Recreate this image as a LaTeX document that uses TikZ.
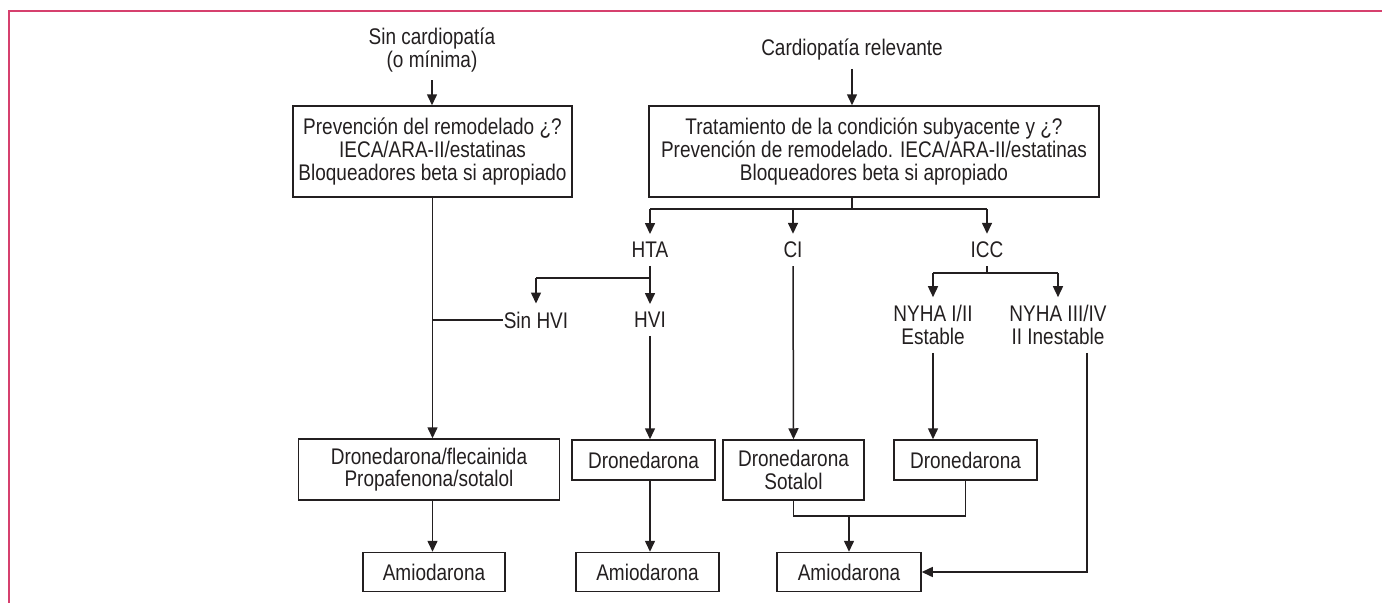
\documentclass[tikz,border=0pt]{standalone}
\usepackage{fontspec}
\setmainfont[FakeStretch=0.84]{Liberation Sans}
\usetikzlibrary{arrows.meta}
\definecolor{marco}{RGB}{214,64,110}
\definecolor{tinta}{RGB}{35,31,32}

\begin{document}
\begin{tikzpicture}[
            x=1pt, y=-1pt,
            caja/.style={
                rectangle,
                draw=tinta,
                line width=1.5pt,
                inner sep=0pt,
                align=center,
                text=tinta,
                font=\fontsize{22.6}{22.6}\selectfont
            },
            rotulo/.style={
                inner sep=8pt,
                align=center,
                text=tinta,
                font=\fontsize{22.6}{22.6}\selectfont
            },
            ln/.style={draw=tinta, line width=1.5pt},
            fl/.style={ln, -{Triangle[length=11pt,width=10pt]}}
        ]
        \useasboundingbox (0,0) rectangle (1382,603);

        % frame
        \draw[marco, line width=2pt] (1382,11) -- (9,11) -- (9,603);

        % nodes
        \node[rotulo] (sincard) at (432,50) {Sin cardiopatía\\(o mínima)};
        \node[rotulo] (cardio) at (852,50) {Cardiopatía relevante};
        \node[caja, minimum width=279pt, minimum height=91pt] (prev) at (432.5,151.5)
            {Prevención del remodelado ¿?\\IECA/ARA-II/estatinas\\Bloqueadores beta si apropiado};
        \node[caja, minimum width=450pt, minimum height=91pt] (trat) at (874,151.5)
            {Tratamiento de la condición subyacente y ¿?\\Prevención de remodelado. IECA/ARA-II/estatinas\\Bloqueadores beta si apropiado};
        \node[rotulo] (hta) at (650,250) {HTA};
        \node[rotulo] (ci) at (793,250) {CI};
        \node[rotulo] (icc) at (987,250) {ICC};
        \node[rotulo] (sinhvi) at (536,320) {Sin HVI};
        \node[rotulo] (hvi) at (650,320) {HVI};
        \node[rotulo] (nyhaa) at (933,325) {NYHA I/II\\Estable};
        \node[rotulo] (nyhab) at (1058,325) {NYHA III/IV\\II Inestable};
        \node[caja, minimum width=261pt, minimum height=61pt] (df) at (429,469.5)
            {Dronedarona/flecainida\\Propafenona/sotalol};
        \node[caja, minimum width=143pt, minimum height=40pt] (dronb) at (643.5,460) {Dronedarona};
        \node[caja, minimum width=141pt, minimum height=60pt] (ds) at (793.5,470) {Dronedarona\\Sotalol};
        \node[caja, minimum width=143pt, minimum height=40pt] (dronc) at (965.5,460) {Dronedarona};
        \node[caja, minimum width=142pt, minimum height=39pt] (amioa) at (434,572) {Amiodarona};
        \node[caja, minimum width=143pt, minimum height=39pt] (amiob) at (647.5,572) {Amiodarona};
        \node[caja, minimum width=144pt, minimum height=39pt] (amioc) at (849,572) {Amiodarona};
        \coordinate (rama) at (0,209);
        \coordinate (ramah) at (0,278);
        \coordinate (ramai) at (0,273);
        \coordinate (junta) at (849,516);
        \coordinate (baja) at (1087,572);

        % lines
        \draw[fl] (sincard.south) -- (sincard.south |- prev.north);
        \draw[fl] (cardio.south) -- (cardio.south |- trat.north);
        \draw[ln] (cardio |- trat.south) -- (cardio |- rama);
        \draw[ln] (hta |- rama) -- (icc |- rama);
        \draw[fl] (hta |- rama) -- (hta.north);
        \draw[fl] (ci |- rama) -- (ci.north);
        \draw[fl] (icc |- rama) -- (icc.north);
        \draw[ln] (hta.south) -- (hta |- ramah);
        \draw[ln] (sinhvi |- ramah) -- (hta |- ramah);
        \draw[fl] (sinhvi |- ramah) -- (sinhvi.north);
        \draw[fl] (hta |- ramah) -- (hvi.north);
        \draw[ln] (icc.south) -- (icc |- ramai);
        \draw[ln] (nyhaa |- ramai) -- (nyhab |- ramai);
        \draw[fl] (nyhaa |- ramai) -- (nyhaa.north);
        \draw[fl] (nyhab |- ramai) -- (nyhab.north);
        \draw[fl] (prev.south) -- (prev.south |- df.north);
        \draw[ln, shorten <=-7pt] (sinhvi.west) -- (sinhvi.west -| prev.south);
        \draw[fl] (prev |- df.south) -- (prev |- amioa.north);
        \draw[fl] (hvi.south) -- (hvi.south |- dronb.north);
        \draw[fl] (hvi |- dronb.south) -- (hvi |- amiob.north);
        \draw[fl] (ci.south) -- (ds.north);
        \draw[fl] (nyhaa.south) -- (nyhaa.south |- dronc.north);
        \draw[ln] (ds.south) -- (ds.south |- junta) -- (dronc.south |- junta) -- (dronc.south);
        \draw[fl] (junta) -- (amioc.north);
        \draw[fl] (nyhab.south -| baja) -- (baja) -- (amioc.east);
    \end{tikzpicture}
\end{document}
